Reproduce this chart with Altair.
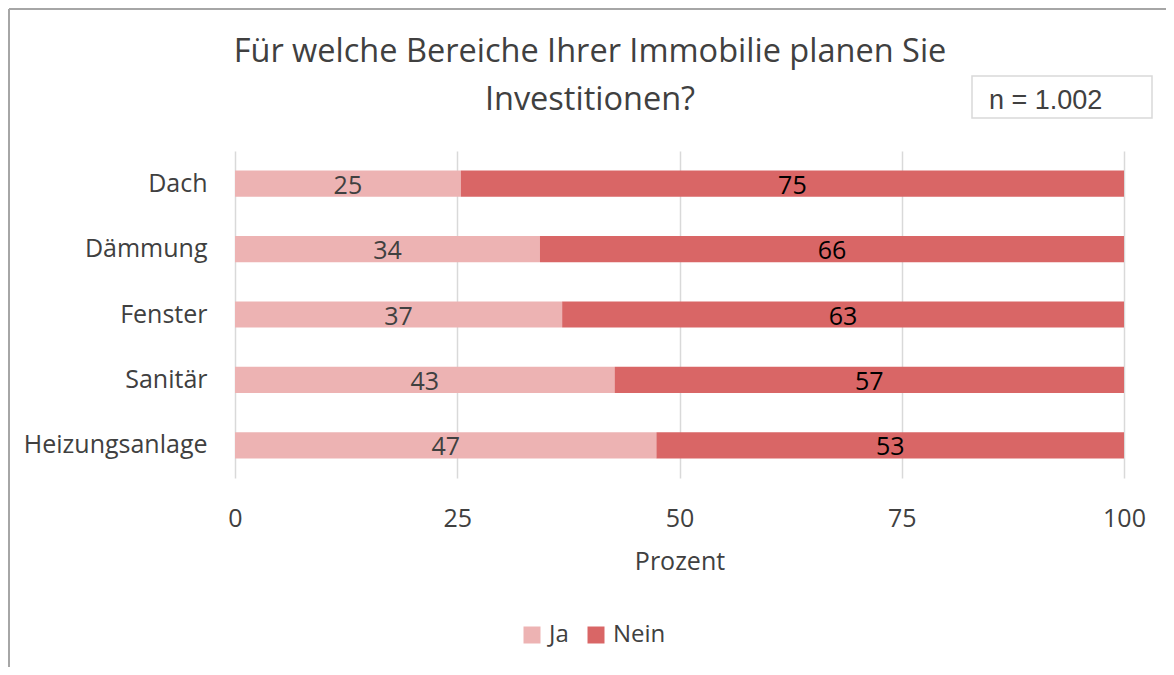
import altair as alt
import pandas as pd

# ---- data ----
categories = ["Dach", "Dämmung", "Fenster", "Sanitär", "Heizungsanlage"]
ja = [25.4, 34.3, 36.8, 42.7, 47.4]
nein = [74.6, 65.7, 63.2, 57.3, 52.6]
series = ["Ja", "Nein"]
colors = ["#EDB3B3", "#D96666"]
title_lines = ["Für welche Bereiche Ihrer Immobilie planen Sie", "Investitionen?"]
n_text = "n = 1.002"
x_ticks = [0, 25, 50, 75, 100]

rows = []
for i, c in enumerate(categories):
    rows.append({"Bereich": c, "Antwort": "Ja", "Wert": ja[i], "ord": 0})
    rows.append({"Bereich": c, "Antwort": "Nein", "Wert": nein[i], "ord": 1})
df = pd.DataFrame(rows)

FONT = "Open Sans"
GRAY = "#404040"

base = alt.Chart(df)

bars = base.mark_bar().encode(
    y=alt.Y("Bereich:N", sort=categories, title=None,
            scale=alt.Scale(paddingInner=0.6, paddingOuter=0.3),
            axis=alt.Axis(domain=False, ticks=False, labelFont=FONT, labelFontSize=25,
                          labelColor=GRAY, labelPadding=28, labelLimit=400, grid=False)),
    x=alt.X("Wert:Q", stack="zero", title="Prozent",
            scale=alt.Scale(domain=[0, 100], nice=False),
            axis=alt.Axis(values=x_ticks, domain=False, ticks=False, grid=True,
                          gridColor="#d9d9d9", gridWidth=1.5, labelFlush=False,
                          labelFont=FONT, labelFontSize=25, labelColor=GRAY, labelPadding=28,
                          titleFont=FONT, titleFontSize=25, titleColor=GRAY,
                          titleFontWeight="normal", titlePadding=18)),
    color=alt.Color("Antwort:N", scale=alt.Scale(domain=series, range=colors),
                    legend=alt.Legend(orient="none", legendX=285, legendY=472,
                                      direction="horizontal", title=None,
                                      symbolType="square", symbolSize=289,
                                      symbolStrokeWidth=0, labelFont=FONT,
                                      labelFontSize=24, labelColor=GRAY,
                                      labelOffset=5, columnPadding=15, padding=0)),
    order=alt.Order("ord:Q"),
)

labels = base.transform_stack(
    stack="Wert", groupby=["Bereich"], as_=["x0", "x1"],
    sort=[alt.SortField("ord", order="ascending")]
).transform_calculate(
    mid="(datum.x0 + datum.x1) / 2"
).mark_text(font=FONT, fontSize=25, baseline="middle", dy=2).encode(
    y=alt.Y("Bereich:N", sort=categories),
    x=alt.X("mid:Q"),
    text=alt.Text("Wert:Q", format=".0f"),
    color=alt.condition(alt.datum.Antwort == "Ja", alt.value(GRAY), alt.value("#000000")),
)

one = alt.Chart(pd.DataFrame({"a": [0]}))

title1 = one.mark_text(text=title_lines[0], font=FONT, fontSize=32.5, align="center",
                       baseline="middle", color=GRAY).encode(
    x=alt.value(355), y=alt.value(-99)
)
title2 = one.mark_text(text=title_lines[1], font=FONT, fontSize=32.5, align="center",
                       baseline="middle", color=GRAY).encode(
    x=alt.value(355), y=alt.value(-51)
)

nbox = one.mark_rect(fill="white", stroke="#d9d9d9", strokeWidth=1.5).encode(
    x=alt.value(737), x2=alt.value(917), y=alt.value(-75), y2=alt.value(-33)
)
ntext = one.mark_text(text=n_text, font="Liberation Sans", fontSize=27, align="left",
                      baseline="middle", color=GRAY).encode(
    x=alt.value(754), y=alt.value(-50)
)

frame_left = one.mark_rule(color="#a6a6a6", strokeWidth=2).encode(
    x=alt.value(-226), y=alt.value(-142), y2=alt.value(516)
)
frame_top = one.mark_rule(color="#a6a6a6", strokeWidth=2).encode(
    x=alt.value(-226), x2=alt.value(931), y=alt.value(-142)
)

chart = alt.layer(bars, labels, title1, title2, nbox, ntext, frame_left, frame_top).properties(
    width=889, height=327,
    padding={"left": 227, "top": 143, "right": 42, "bottom": 189},
    autosize="none",
    background="white",
).configure_view(stroke=None)

chart.save("out.html", embed_options={"renderer": "svg", "actions": False})
